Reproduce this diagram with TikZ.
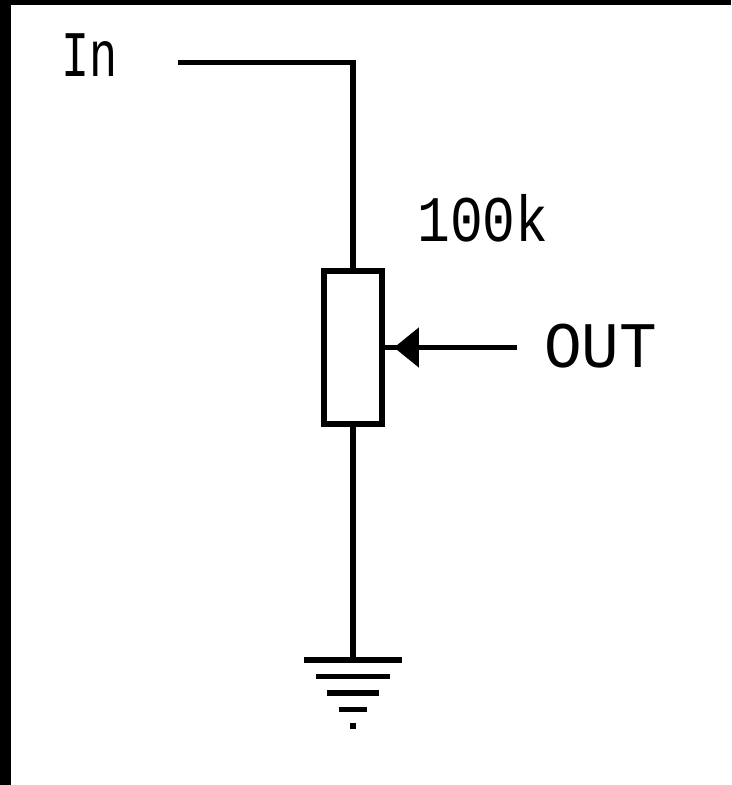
\documentclass[tikz,border=0pt]{standalone}
\usepackage{fontspec}
\setmonofont{Liberation Mono}
\usetikzlibrary{arrows.meta}

\newcommand{\squeezed}[2]{\scalebox{#1}[1]{#2}}

\tikzset{
  wire/.style={line width=.11cm},
  label/.style={font=\ttfamily\fontsize{37}{37}\selectfont,inner sep=0pt,anchor=base west},
  border/.style={fill=black,draw=none},
}

\begin{document}
\begin{tikzpicture}
            [x=.02cm,y=-.02cm,>={Triangle[length=.5cm,width=.78cm]}]

            \useasboundingbox (0,0) rectangle (731,785);

            % page border
            \fill[border] (0,0) rectangle (731,5);
            \fill[border] (0,0) rectangle (11,785);

            \node (pot) [draw,wire,rectangle,minimum width=1.16cm,minimum height=3.06cm,outer sep=0pt,fill=white] at (353,347.5) {};
            \node (in) [label] at (61,76) {\squeezed{.72}{In}};
            \node (value) [label] at (417,241) {\squeezed{.84}{100k}};
            \node (out) [label] at (544,367) {\squeezed{.965}{OUT}};

            \coordinate (inend) at (178,62.5);
            \coordinate (outend) at (517,347.5);
            \coordinate (tip) at (394,347.5);
            \coordinate (gnd) at (353,660);

            \draw[wire] (inend) -| (pot.north);
            \draw[wire] (pot.south) -- (gnd);
            \draw[wire] (outend) -- (pot.east |- outend);
            \draw[wire,->] (outend) -- (tip);

            % ground bars
            \foreach \y/\half/\thick in {660/49/.12,676/37/.1,693/26/.12,709.5/14/.1,726/3/.12}
                \draw[line width=\thick cm] (353-\half,\y) -- (353+\half,\y);
        \end{tikzpicture}
\end{document}
